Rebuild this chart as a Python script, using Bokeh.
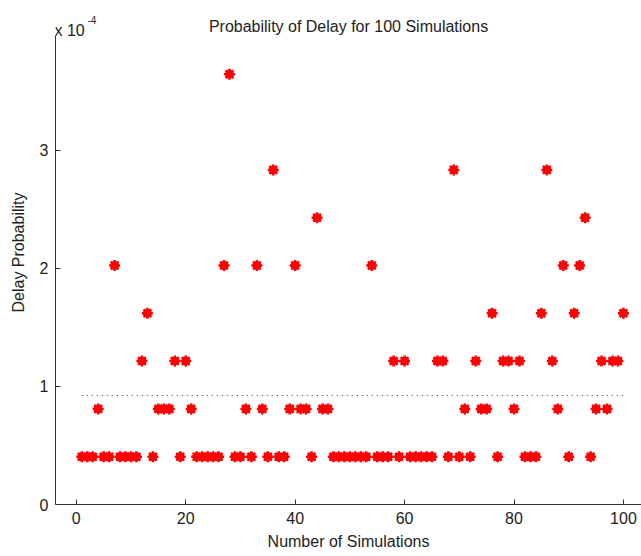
import numpy as np
from bokeh.plotting import figure
from bokeh.models import Range1d, FixedTicker, Label
from bokeh.embed import file_html
from bokeh.resources import INLINE

# ---- data (delay probability in units of 1e-4) ----
simulation = list(range(1, 101))
delay_prob_e4 = [
    0.405, 0.405, 0.405, 0.81, 0.405, 0.405, 2.025, 0.405, 0.405, 0.405,   # 1-10
    0.405, 1.215, 1.62, 0.405, 0.81, 0.81, 0.81, 1.215, 0.405, 1.215,      # 11-20
    0.81, 0.405, 0.405, 0.405, 0.405, 0.405, 2.025, 3.645, 0.405, 0.405,   # 21-30
    0.81, 0.405, 2.025, 0.81, 0.405, 2.835, 0.405, 0.405, 0.81, 2.025,     # 31-40
    0.81, 0.81, 0.405, 2.43, 0.81, 0.81, 0.405, 0.405, 0.405, 0.405,       # 41-50
    0.405, 0.405, 0.405, 2.025, 0.405, 0.405, 0.405, 1.215, 0.405, 1.215,  # 51-60
    0.405, 0.405, 0.405, 0.405, 0.405, 1.215, 1.215, 0.405, 2.835, 0.405,  # 61-70
    0.81, 0.405, 1.215, 0.81, 0.81, 1.62, 0.405, 1.215, 1.215, 0.81,       # 71-80
    1.215, 0.405, 0.405, 0.405, 1.62, 2.835, 1.215, 0.81, 2.025, 0.405,    # 81-90
    1.62, 2.025, 2.43, 0.405, 0.81, 1.215, 0.81, 1.215, 1.215, 1.62,       # 91-100
]
mean_delay_e4 = float(np.mean(delay_prob_e4))
mean_x = [1, 100]
mean_y = [mean_delay_e4, mean_delay_e4]

x_ticks = [0, 20, 40, 60, 80, 100]
y_ticks = [0, 1, 2, 3]

title_text = "Probability of Delay for 100 Simulations"
x_label = "Number of Simulations"
y_label = "Delay Probability"

FONT = "Liberation Sans"
TXT = "#222222"

x_start, x_end = -3.8, 103.3
y_start, y_axis_top, y_frame_top = 0.0, 3.97, 4.27

p = figure(width=641, height=556, output_backend="svg", toolbar_location=None,
           x_range=Range1d(x_start, x_end), y_range=Range1d(y_start, y_frame_top),
           min_border_left=55, min_border_right=0, min_border_top=0, min_border_bottom=52)
p.outline_line_color = None
p.grid.visible = False
p.background_fill_color = "white"
p.border_fill_color = "white"

for ax in (p.xaxis[0], p.yaxis[0]):
    ax.axis_line_color = "#333333"
    ax.major_tick_line_color = "#333333"
    ax.major_tick_in = 5
    ax.major_tick_out = 0
    ax.minor_tick_line_color = None
    ax.major_label_text_font = FONT
    ax.major_label_text_font_size = "16px"
    ax.major_label_text_color = TXT
    ax.axis_label_text_font = FONT
    ax.axis_label_text_font_size = "16px"
    ax.axis_label_text_font_style = "normal"
    ax.axis_label_text_color = TXT

p.xaxis.ticker = FixedTicker(ticks=x_ticks)
p.yaxis.ticker = FixedTicker(ticks=y_ticks)
p.yaxis.bounds = (y_start, y_axis_top)
p.xaxis.major_label_standoff = 7
p.yaxis.major_label_standoff = 7
p.xaxis.axis_label = x_label
p.yaxis.axis_label = y_label
p.xaxis.axis_label_standoff = 6
p.yaxis.axis_label_standoff = 10

# mean line
p.line(mean_x, mean_y, line_color="#3a3a4a", line_width=1, line_dash="1 4")

# points
p.scatter(simulation, delay_prob_e4, marker="circle", size=8,
          fill_color="#ff0000", line_color="#ee0000", line_width=1)
p.scatter(simulation, delay_prob_e4, marker="asterisk", size=11,
          line_color="#ff0000", line_width=2.5)

# title and multiplier
p.add_layout(Label(x=(x_start + x_end) / 2, y=y_axis_top, y_offset=9, text=title_text,
                   text_align="center", text_baseline="alphabetic",
                   text_font=FONT, text_font_size="16px", text_color=TXT))
p.add_layout(Label(x=x_start, y=y_axis_top, x_offset=-1, y_offset=5, text="x 10",
                   text_align="left", text_baseline="alphabetic",
                   text_font=FONT, text_font_size="16px", text_color=TXT))
p.add_layout(Label(x=x_start, y=y_axis_top, x_offset=32, y_offset=16, text="-4",
                   text_align="left", text_baseline="alphabetic",
                   text_font=FONT, text_font_size="10px", text_color=TXT))

open("out.html", "w").write(file_html(p, INLINE))
